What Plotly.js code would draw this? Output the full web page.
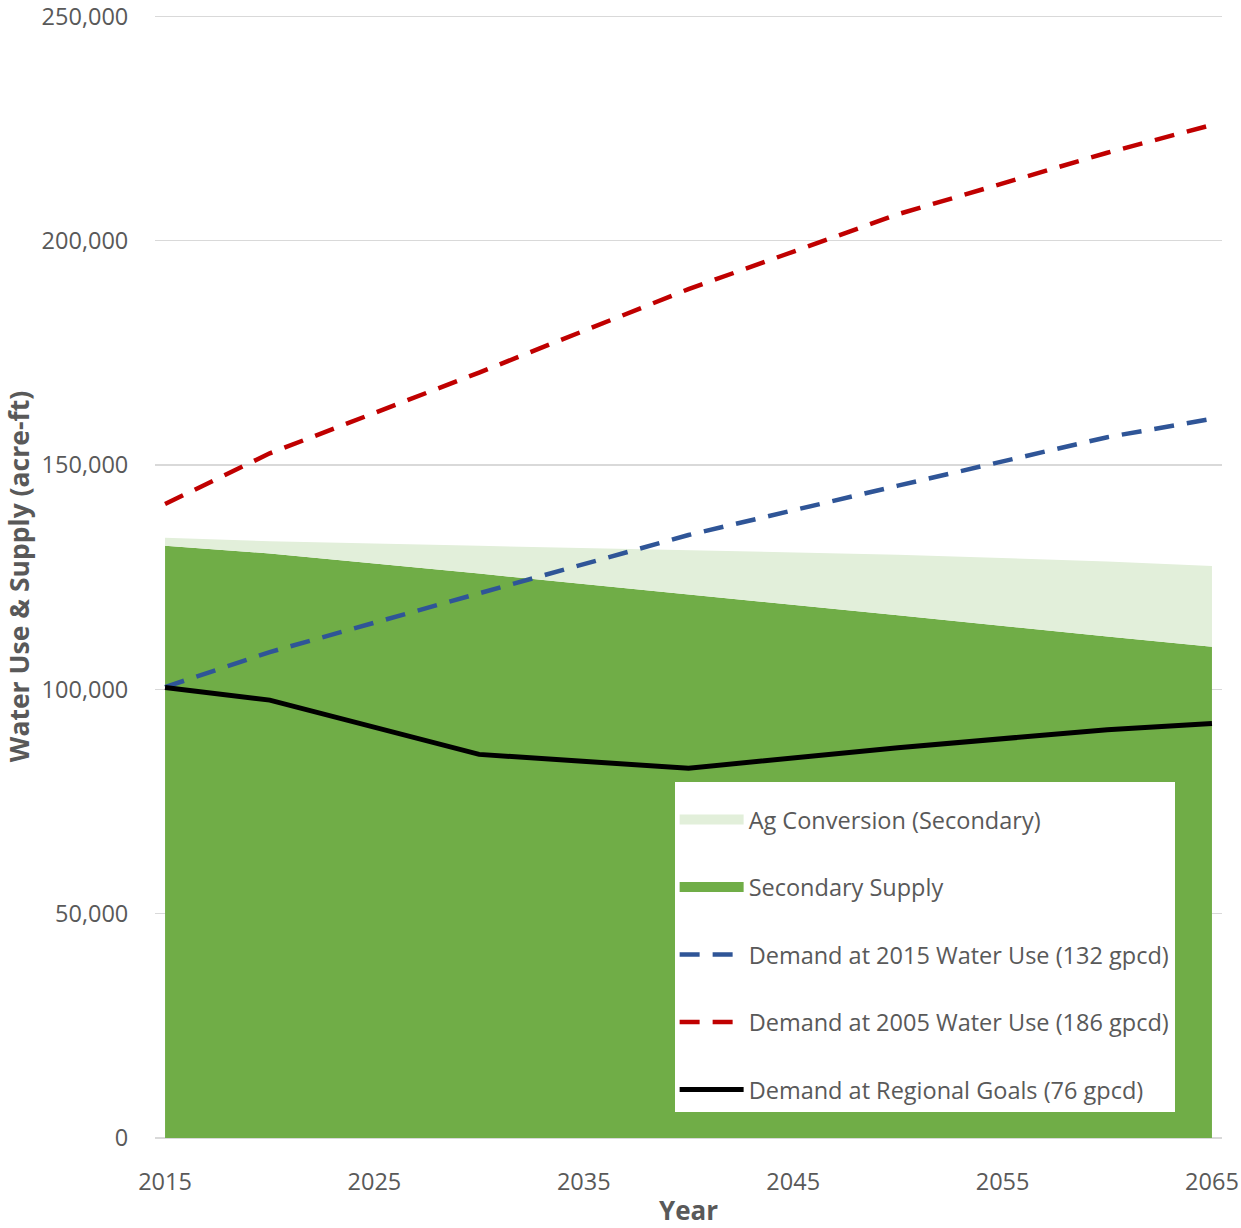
<!DOCTYPE html>
<html>
<head>
<meta charset="utf-8">
<script src="https://cdn.plot.ly/plotly-3.0.1.min.js"></script>
<style>html,body{margin:0;padding:0;background:#fff;}#chart{width:1241px;height:1228px;}</style>
</head>
<body>
<div id="chart"></div>
<script>
const years = [2015, 2020, 2030, 2040, 2050, 2060, 2065];
const secondarySupply = [132000, 130300, 125800, 121200, 116500, 111800, 109500];
const agConversion = [1800, 2700, 6200, 9800, 13500, 16700, 18000];
const demand2015Use = [100500, 108300, 121400, 134400, 145400, 156200, 160300];
const demand2005Use = [141300, 152600, 170600, 189200, 205900, 219600, 225800];
const demandRegionalGoals = [100400, 97600, 85500, 82400, 87000, 91000, 92400];
const xTicks = [2015, 2025, 2035, 2045, 2055, 2065];
const yTicks = [0, 50000, 100000, 150000, 200000, 250000];

const names = {
  ag: 'Ag Conversion (Secondary)',
  sec: 'Secondary Supply',
  d15: 'Demand at 2015 Water Use (132 gpcd)',
  d05: 'Demand at 2005 Water Use (186 gpcd)',
  goal: 'Demand at Regional Goals (76 gpcd)'
};
const colors = {ag: '#E2EFDA', sec: '#70AD47', d15: '#2F5597', d05: '#C00000', goal: '#000000'};

const traces = [
  {x: years, y: secondarySupply, name: names.sec, type: 'scatter', mode: 'lines',
   stackgroup: 'supply', fillcolor: colors.sec, line: {width: 0, color: colors.sec}, showlegend: false},
  {x: years, y: agConversion, name: names.ag, type: 'scatter', mode: 'lines',
   stackgroup: 'supply', fillcolor: colors.ag, line: {width: 0, color: colors.ag}, showlegend: false},
  // legend swatches for the two areas
  {x: [null], y: [null], name: names.ag, type: 'scatter', mode: 'lines',
   line: {width: 15, color: colors.ag}, legendrank: 1, legendgroup: 'a'},
  {x: [null], y: [null], name: names.sec, type: 'scatter', mode: 'lines',
   line: {width: 15, color: colors.sec}, legendrank: 2, legendgroup: 'b'},
  {x: years, y: demand2015Use, name: names.d15, type: 'scatter', mode: 'lines',
   line: {color: colors.d15, width: 4.5, dash: '20px,13px'}, legendrank: 3, legendgroup: 'c'},
  {x: years, y: demand2005Use, name: names.d05, type: 'scatter', mode: 'lines',
   line: {color: colors.d05, width: 4.5, dash: '20px,13px'}, legendrank: 4, legendgroup: 'd'},
  {x: years, y: demandRegionalGoals, name: names.goal, type: 'scatter', mode: 'lines',
   line: {color: colors.goal, width: 5}, legendrank: 5, legendgroup: 'e'}
];

const fam = 'Open Sans, sans-serif';
const tickFont = {family: fam, size: 23.5, color: '#595959'};

const layout = {
  width: 1241, height: 1228,
  margin: {l: 155, r: 19, t: 15, b: 90, pad: 0},
  paper_bgcolor: '#ffffff', plot_bgcolor: '#ffffff',
  showlegend: true,
  legend: {
    x: 0.487, y: 0.317, xanchor: 'left', yanchor: 'top',
    bgcolor: '#ffffff', borderwidth: 0,
    font: {family: fam, size: 23.5, color: '#595959'},
    title: {text: ' ', font: {family: fam, size: 12}},
    traceorder: 'grouped', tracegroupgap: 34, itemwidth: 64,
    itemsizing: 'trace'
  },
  xaxis: {
    range: [2014.52, 2065.48], tickvals: xTicks,
    showgrid: false, zeroline: false, showline: false,
    ticks: 'outside', ticklen: 23, tickcolor: 'rgba(0,0,0,0)',
    tickfont: tickFont, ticklabeloverflow: 'allow',
    title: {text: 'Year', font: {family: fam, size: 26, color: '#595959', weight: 'bold'}, standoff: 6}
  },
  yaxis: {
    range: [0, 250300], tickvals: yTicks, tickformat: ',d',
    showgrid: true, gridcolor: '#D9D9D9', gridwidth: 1.5,
    zeroline: true, zerolinecolor: '#D9D9D9', zerolinewidth: 2,
    showline: false,
    ticks: 'outside', ticklen: 21, tickcolor: 'rgba(0,0,0,0)',
    tickfont: tickFont, ticklabeloverflow: 'allow',
    title: {text: 'Water Use & Supply (acre-ft)', font: {family: fam, size: 26.5, color: '#595959', weight: 'bold'}, standoff: 4}
  }
};

Plotly.newPlot('chart', traces, layout, {displayModeBar: false, staticPlot: true});
</script>
</body>
</html>
